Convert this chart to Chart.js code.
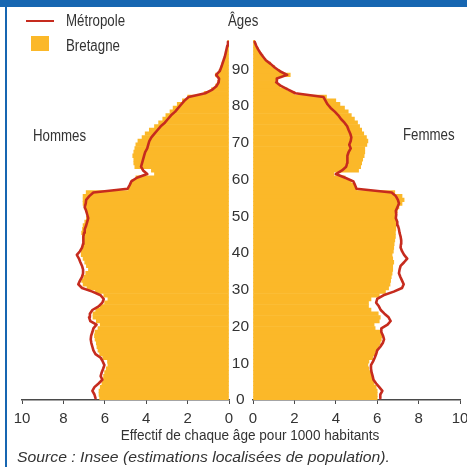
<!DOCTYPE html>
<html><head><meta charset="utf-8">
<script src="https://cdn.jsdelivr.net/npm/chart.js@4.4.1/dist/chart.umd.min.js"></script>
<style>
html,body{margin:0;padding:0;background:#fff;}
#wrap{position:relative;width:467px;height:467px;overflow:hidden;font-family:"Liberation Sans",Arial,sans-serif;color:#333;}
canvas{position:absolute;left:0;top:0;}
.t{position:absolute;white-space:nowrap;line-height:1;transform-origin:0 0;}
.n{font-size:16px;transform:scaleX(0.83);}
</style></head><body>
<div id="wrap">
  <div style="position:absolute;left:0;top:0;width:467px;height:7px;background:#1766b1;"></div>
  <div style="position:absolute;left:5px;top:0;width:2px;height:467px;background:#1766b1;"></div>
  <canvas id="cL" width="467" height="467"></canvas>
  <canvas id="cR" width="467" height="467"></canvas>
  <div style="position:absolute;left:26px;top:19.7px;width:28px;height:2.7px;background:#c62b1e;"></div>
  <div class="t n" style="left:66px;top:13.2px;">Métropole</div>
  <div style="position:absolute;left:31px;top:36px;width:18px;height:15px;background:#fbb829;"></div>
  <div class="t n" style="left:66px;top:37.7px;">Bretagne</div>
  <div class="t n" style="left:228px;top:13.2px;">Âges</div>
  <div class="t n" style="left:33px;top:127.7px;">Hommes</div>
  <div class="t n" style="left:403px;top:127.2px;">Femmes</div>
  <div class="t" style="left:250px;top:427.5px;font-size:14px;transform-origin:50% 0;transform:translateX(-50%) scaleX(0.97);">Effectif de chaque âge pour 1000 habitants</div>
  <div class="t" style="left:16.5px;top:448.6px;font-size:15px;font-style:italic;transform:scaleX(1.05);">Source : Insee (estimations localisées de population).</div>
</div>
<script>
const AGES = Array.from({length: 98}, (_, i) => i);
const X_TICKS = [0, 2, 4, 6, 8, 10];
const AGE_TICKS = [0, 10, 20, 30, 40, 50, 60, 70, 80, 90];

const HOMMES_METROPOLE = [
  6.45, 6.5, 6.6, 6.5, 6.3, 6.12, 6.2, 6.15, 6.08, 6.02,
  6.1, 6.2, 6.45, 6.55, 6.6, 6.65, 6.68, 6.66, 6.6, 6.55,
  6.4, 6.7, 6.76, 6.72, 6.6, 6.3, 6.12, 6.05, 6.2, 6.6,
  7.1, 7.28, 7.2, 7.1, 7.05, 7.05, 7.1, 7.18, 7.25, 7.35,
  7.2, 7.1, 7.05, 7.05, 7.02, 7.0, 6.97, 6.9, 6.85, 6.8,
  6.85, 6.9, 6.97, 6.92, 6.9, 6.75, 6.55, 4.9, 4.8, 4.72,
  4.45, 3.95, 4.15, 4.25, 4.2, 4.15, 4.1, 4.05, 3.95, 3.9,
  3.85, 3.75, 3.6, 3.45, 3.3, 3.1, 2.95, 2.8, 2.6, 2.45,
  2.3, 2.15, 1.95, 1.15, 0.8, 0.6, 0.5, 0.48, 0.62, 0.45,
  0.38, 0.32, 0.26, 0.2, 0.16, 0.12, 0.08, 0.05
];
const HOMMES_BRETAGNE = [
  6.25, 6.28, 6.28, 6.22, 6.14, 6.09, 6.06, 6.01, 5.93, 5.85,
  5.87, 6.1, 6.25, 6.33, 6.38, 6.41, 6.47, 6.5, 6.47, 6.33,
  6.22, 6.41, 6.57, 6.57, 6.44, 6.22, 6.01, 5.85, 6.05, 6.45,
  6.86, 7.05, 7.12, 7.02, 6.92, 6.79, 6.89, 6.97, 7.05, 7.14,
  7.14, 7.08, 7.05, 7.05, 7.08, 7.12, 7.08, 7.05, 6.97, 6.89,
  6.85, 6.9, 7.0, 7.05, 7.05, 7.05, 6.9, 4.85, 4.8, 4.7,
  4.5, 3.6, 3.75, 4.55, 4.6, 4.6, 4.65, 4.6, 4.55, 4.5,
  4.4, 4.2, 4.05, 3.85, 3.6, 3.4, 3.2, 3.05, 2.85, 2.7,
  2.5, 2.25, 2.0, 1.2, 0.85, 0.65, 0.55, 0.5, 0.65, 0.48,
  0.4, 0.34, 0.28, 0.22, 0.17, 0.12, 0.08, 0.05
];
const FEMMES_METROPOLE = [
  6.15, 6.15, 6.25, 6.1, 5.95, 5.82, 5.78, 5.73, 5.7, 5.7,
  5.8, 5.88, 5.95, 6.0, 6.15, 6.27, 6.33, 6.28, 6.2, 6.2,
  6.5, 6.65, 6.55, 6.35, 6.17, 6.08, 5.95, 6.0, 6.3, 6.8,
  7.2, 7.28, 7.2, 7.12, 7.05, 7.08, 7.13, 7.3, 7.45, 7.3,
  7.2, 7.13, 7.15, 7.16, 7.13, 7.08, 7.05, 7.0, 6.97, 6.9,
  6.92, 6.9, 6.98, 7.05, 7.0, 6.9, 6.7, 5.0, 4.93, 4.85,
  4.45, 4.0, 4.3, 4.5, 4.55, 4.55, 4.57, 4.62, 4.72, 4.65,
  4.72, 4.75, 4.7, 4.62, 4.55, 4.42, 4.25, 4.12, 3.95, 3.75,
  3.6, 3.5, 3.4, 2.05, 1.7, 1.35, 1.12, 1.15, 1.65, 1.3,
  1.05, 0.85, 0.62, 0.48, 0.35, 0.24, 0.15, 0.08
];
const FEMMES_BRETAGNE = [
  6.0, 6.0, 6.0, 5.95, 5.85, 5.78, 5.75, 5.7, 5.6, 5.55,
  5.6, 5.78, 5.88, 5.98, 6.08, 6.15, 6.2, 6.22, 6.2, 5.9,
  5.85, 6.1, 6.15, 6.05, 5.7, 5.58, 5.58, 5.7, 6.1, 6.4,
  6.55, 6.62, 6.65, 6.68, 6.72, 6.75, 6.75, 6.8, 6.75, 6.72,
  6.78, 6.8, 6.82, 6.85, 6.88, 6.88, 6.9, 6.9, 6.9, 6.85,
  6.9, 6.97, 7.05, 7.2, 7.3, 7.2, 6.85, 5.0, 4.9, 4.75,
  4.45, 3.9, 5.1, 5.2, 5.25, 5.3, 5.37, 5.4, 5.4, 5.5,
  5.55, 5.48, 5.35, 5.25, 5.15, 5.05, 4.9, 4.75, 4.6, 4.42,
  4.2, 4.0, 3.55, 2.0, 1.65, 1.3, 1.15, 1.2, 1.8, 1.3,
  1.05, 0.85, 0.62, 0.48, 0.35, 0.24, 0.15, 0.08
];

const ORANGE = '#fbb829', RED = '#c62b1e', AXIS = '#4a4a4a', TEXT = '#333333';
const FONT = '"Liberation Sans", Arial, sans-serif';

function pts(arr) { return arr.map((v, i) => ({x: v, y: AGES[i] + 0.5})); }

function makeChart(id, bret, metro, side) {
  const left = side === 'left';
  return new Chart(document.getElementById(id), {
    type: 'bar',
    data: { datasets: [
      {type: 'line', label: 'Métropole', data: pts(metro), indexAxis: 'y', borderColor: RED,
       borderWidth: 2.6, pointRadius: 0, tension: 0, fill: false, order: 0,
       borderJoinStyle: 'round', borderCapStyle: 'round'},
      {type: 'bar', label: 'Bretagne', data: pts(bret), indexAxis: 'y', backgroundColor: ORANGE,
       borderWidth: 0, barPercentage: 1, categoryPercentage: 1, order: 1}
    ]},
    options: {
      indexAxis: 'y', responsive: false, animation: false,
      layout: {padding: left ? {left: 22, right: 238, top: 40, bottom: 37}
                             : {left: 229, right: 7, top: 40, bottom: 37}},
      plugins: {legend: {display: false}, tooltip: {enabled: false}},
      scales: {
        x: {type: 'linear', min: 0, max: 10, reverse: left, position: 'bottom', offset: false,
            afterBuildTicks: s => { s.ticks = X_TICKS.map(v => ({value: v})); },
            afterFit: s => { s.height = 30; s.paddingLeft = 0; s.paddingRight = 0; },
            grid: {display: true, drawOnChartArea: false, drawTicks: true, tickLength: 4, color: AXIS, lineWidth: 1, offset: false},
            border: {display: true, color: AXIS, width: 1.5},
            ticks: {font: {family: FONT, size: 15}, color: TEXT, padding: 6, maxRotation: 0, autoSkip: false}},
        y: {type: 'linear', min: 0, max: 98, position: 'left', display: !left, offset: false,
            afterBuildTicks: s => { s.ticks = AGE_TICKS.map(v => ({value: v})); },
            afterFit: s => { if (!left) { s.width = 24; } s.paddingTop = 0; s.paddingBottom = 0; },
            grid: {display: false, drawTicks: false, tickLength: 0, offset: false}, border: {display: false},
            ticks: {font: {family: FONT, size: 15.5}, color: TEXT, padding: 4, crossAlign: 'center', autoSkip: false}}
      }
    }
  });
}

makeChart('cL', HOMMES_BRETAGNE, HOMMES_METROPOLE, 'left');
makeChart('cR', FEMMES_BRETAGNE, FEMMES_METROPOLE, 'right');
</script>
</body></html>
